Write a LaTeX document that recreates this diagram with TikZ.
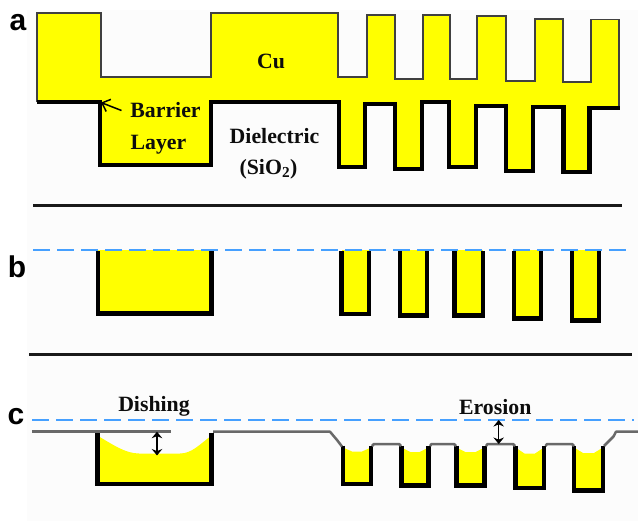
\documentclass[tikz,border=0pt]{standalone}
\usepackage{fontspec}
\setmainfont{Liberation Serif}
\newfontfamily\panelfont{Liberation Sans}
\usetikzlibrary{arrows.meta}
\definecolor{cuyellow}{RGB}{255,255,0}
\definecolor{planeblue}{RGB}{70,160,255}
\definecolor{surfgray}{RGB}{105,105,105}
\tikzset{
  lbl/.style={font=\fontsize{21.8}{24}\selectfont\bfseries,inner sep=0pt,text=black!95},
  panel/.style={font=\fontsize{30}{32}\selectfont\panelfont\bfseries,inner sep=0pt},
  barrier/.style={draw=black,line width=4.4pt,miter limit=10},
  thinedge/.style={draw=black!75,line width=1.3pt},
  rulebar/.style={draw=black!90,line width=3pt},
  plane/.style={draw=planeblue,line width=2pt,dash pattern=on 17pt off 7pt},
  surf/.style={draw=surfgray,line width=2.5pt,line join=round},
  gauge/.style={draw=black,line width=1.1pt,{Stealth[length=6.5pt,width=10.5pt]}-{Stealth[length=6.5pt,width=10.5pt]}},
  pointer/.style={draw=black,line width=1.5pt,-{Straight Barb[length=7pt,width=13pt,line width=1.5pt]}}
}
\begin{document}
\begin{tikzpicture}[x=1pt,y=-1pt]
\useasboundingbox (0,0) rectangle (638,522);
\fill[white] (0,0) rectangle (638,522);
\fill[black!1] (27,10) rectangle (638,521);
% Panel a: copper
\fill[cuyellow] (37,13)--(101,13)--(101,77)--(211,77)--(211,13)--(338,13)--(338,77)--(367,77)--(367,15)--(395,15)--(395,79)--(423,79)--(423,15)--(450,15)--(450,79)--(477,79)--(477,16)--(506,16)--(506,81)--(535,81)--(535,19)--(563,19)--(563,82)--(591,82)--(591,19.5)--(619,19.5)--(619,108)
--(589.5,108)--(589.5,172)--(563.5,172)--(563.5,107)--(533,107)--(533,171)--(506,171)--(506,106)--(476,106)--(476,167)--(449,167)--(449,102)--(422,102)--(422,169)--(395,169)--(395,104)--(365,104)--(365,167)--(339,167)--(339,102)--(211,102)--(211,165)--(100,165)--(100,102)--(37,102)--cycle;
\draw[thinedge] (37,102)--(37,13)--(101,13)--(101,77)--(211,77)--(211,13)--(338,13)--(338,77)--(367,77)--(367,15)--(395,15)--(395,79)--(423,79)--(423,15)--(450,15)--(450,79)--(477,79)--(477,16)--(506,16)--(506,81)--(535,81)--(535,19)--(563,19)--(563,82)--(591,82)--(591,19.5)--(619,19.5)--(619,108);
\draw[barrier] (37,102)--(100,102)--(100,165)--(211,165)--(211,102)--(339,102)--(339,167)--(365,167)--(365,104)--(395,104)--(395,169)--(422,169)--(422,102)--(449,102)--(449,167)--(476,167)--(476,106)--(506,106)--(506,171)--(533,171)--(533,107)--(563.5,107)--(563.5,172)--(589.5,172)--(589.5,108)--(620,108);
\node[panel] (pa) at (18,22.5) {a};
\node[lbl] (cu) at (271,61) {Cu};
\node[lbl] (barrierlbl) at (165.5,110.5) {Barrier};
\node[lbl] (layerlbl) at (158.5,144.5) {Layer};
\node[lbl] (diel) at (274.5,136) {Dielectric};
\node[lbl] (sio) at (268.5,169) {(SiO$_{\mathbf 2}$)};
\coordinate (ptrs) at (121.5,110.5);
\coordinate (ptre) at (101,102.5);
\draw[pointer] (ptrs)--(ptre);
\coordinate (r1l) at (33,205); \coordinate (r1r) at (622,205);
\draw[rulebar] (r1l)--(r1r);
% Panel b
\fill[cuyellow] (98,250) rectangle (211.5,313.5);
\draw[barrier,line width=4.8pt] (98,251)--(98,313.5)--(211.5,313.5)--(211.5,251);
\foreach \xa/\xb/\yb in {341.5/369/314,400/427/315.5,454.5/483/315.5,514/541/318.5,572/599/320.5}{
  \fill[cuyellow] (\xa,250) rectangle (\xb,\yb);
  \draw[barrier,line width=4.8pt] (\xa,251)--(\xa,\yb)--(\xb,\yb)--(\xb,251);
}
\coordinate (p1l) at (33,250); \coordinate (p1r) at (630,250);
\draw[plane] (p1l)--(p1r);
\node[panel] (pb) at (17,267) {b};
\coordinate (r2l) at (29,354.5); \coordinate (r2r) at (632,354.5);
\draw[rulebar] (r2l)--(r2r);
% Panel c
\fill[cuyellow] (98,436) .. controls (112,444) and (125,453.5) .. (139,453.5) -- (180,453.5) .. controls (192,453.5) and (200,444) .. (211,436) -- (211,484) -- (98,484) -- cycle;
\draw[barrier] (97.5,433)--(97.5,484)--(211.5,484)--(211.5,433);
\foreach \xa/\xb/\yb/\ym in {343/371/484/451.5,401.5/428.5/485.5/452,456.5/484.5/485.5/452,515.5/544/488/453.5,574/603/490.5/453}{
  \pgfmathsetmacro{\xc}{\xa+9}\pgfmathsetmacro{\xd}{\xb-9}
  \fill[cuyellow] (\xa,447.5) -- (\xc,\ym) -- (\xd,\ym) -- (\xb,447.5) -- (\xb,\yb) -- (\xa,\yb) -- cycle;
  \draw[barrier,line width=4.8pt] (\xa,445.5)--(\xa,\yb)--(\xb,\yb)--(\xb,445.5);
}
\draw[surf] (32,431.7)--(171,431.7);
\draw[surf] (213,431.7)--(330,431.7)--(337,440)--(342,446.5);
\draw[surf] (372,446)--(374,444)--(399,444)--(401,446);
\draw[surf] (430,446)--(431.5,444)--(454,444)--(456,446);
\draw[surf] (486,446)--(487.5,444)--(513,444)--(515,446);
\draw[surf] (545.5,446)--(547,444)--(572,444)--(574,446);
\draw[surf] (604,446)--(613.5,436.5)--(616,431.7)--(638,431.7);
\coordinate (p2l) at (32,420); \coordinate (p2r) at (634,420);
\draw[plane,line width=2.3pt] (p2l)--(p2r);
\node[panel] (pc) at (16,417) {c};
\node[lbl] (dish) at (154,406) {Dishing};
\node[lbl] (eros) at (495.3,407.5) {Erosion};
\coordinate (dt) at (157,431.7); \coordinate (db) at (157,455.5);
\draw[gauge] (dt)--(db);
\coordinate (et) at (498.7,420); \coordinate (eb) at (498.7,444);
\draw[gauge] (et)--(eb);
\end{tikzpicture}
\end{document}
